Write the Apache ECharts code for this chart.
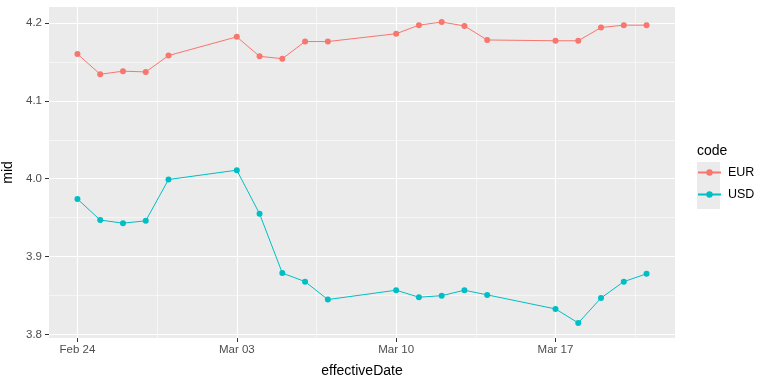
<!DOCTYPE html>
<html>
<head>
<meta charset="utf-8">
<script src="https://cdn.jsdelivr.net/npm/echarts@6/dist/echarts.min.js"></script>
<style>html,body{margin:0;padding:0;background:#fff}#c{width:768px;height:384px}</style>
</head>
<body>
<div id="c"></div>
<script>
const dates = ["2025-02-24","2025-02-25","2025-02-26","2025-02-27","2025-02-28",
  "2025-03-03","2025-03-04","2025-03-05","2025-03-06","2025-03-07",
  "2025-03-10","2025-03-11","2025-03-12","2025-03-13","2025-03-14",
  "2025-03-17","2025-03-18","2025-03-19","2025-03-20","2025-03-21"];
const eur = [4.160,4.134,4.138,4.137,4.158,4.182,4.157,4.154,4.176,4.176,
  4.186,4.197,4.201,4.196,4.178,4.177,4.177,4.194,4.197,4.197];
const usd = [3.974,3.947,3.943,3.946,3.999,4.011,3.955,3.879,3.868,3.845,
  3.857,3.848,3.850,3.857,3.851,3.833,3.815,3.847,3.868,3.878];
const xTickDates = ["2025-02-24","2025-03-03","2025-03-10","2025-03-17"];
const xTickLabels = ["Feb 24","Mar 03","Mar 10","Mar 17"];
const xMinorDates = ["2025-02-27T12:00","2025-03-06T12:00","2025-03-13T12:00","2025-03-20T12:00"];
const yTicks = [3.8,3.9,4.0,4.1,4.2];
const yTickLabels = ["3.8","3.9","4.0","4.1","4.2"];
const yMinor = [3.85,3.95,4.05,4.15];

const ts = s => { const [d,t] = s.split("T"); const [Y,M,D] = d.split("-").map(Number);
  let h = 0; if (t) h = Number(t.split(":")[0]); return Date.UTC(Y, M-1, D, h); };
const xs = dates.map(ts);
const xMin = xs[0] - 0.05*(xs[xs.length-1]-xs[0]);
const xMax = xs[xs.length-1] + 0.05*(xs[xs.length-1]-xs[0]);
const allY = eur.concat(usd);
const yLo = Math.min(...allY), yHi = Math.max(...allY);
const yMin = yLo - 0.05*(yHi-yLo), yMax = yHi + 0.05*(yHi-yLo);
const xTickVals = xTickDates.map(ts);
const xMinorVals = xMinorDates.map(ts);

const gridLines = [];
xTickVals.forEach(v => gridLines.push({xAxis: v, lineStyle: {width: 1.1}}));
xMinorVals.forEach(v => gridLines.push({xAxis: v, lineStyle: {width: 0.55}}));
yTicks.forEach(v => gridLines.push({yAxis: v, lineStyle: {width: 1.1}}));
yMinor.forEach(v => gridLines.push({yAxis: v, lineStyle: {width: 0.55}}));

const font = '"Liberation Sans", Arial, sans-serif';
const chart = echarts.init(document.getElementById('c'));
chart.setOption({
  animation: false,
  textStyle: {fontFamily: font},
  grid: {left: 49, right: 93, top: 7, bottom: 46, show: true, backgroundColor: '#EBEBEB', borderWidth: 0,
    containLabel: false, outerBoundsMode: 'none'},
  xAxis: {
    type: 'value', min: xMin, max: xMax,
    name: 'effectiveDate', nameLocation: 'middle', nameGap: 26,
    nameTextStyle: {color: '#000', fontSize: 14, fontFamily: font},
    axisLine: {show: false},
    axisTick: {show: true, length: 4, lineStyle: {color: '#333'}, customValues: xTickVals},
    axisLabel: {color: '#4D4D4D', fontSize: 11.5, margin: 6, customValues: xTickVals,
      formatter: v => { const i = xTickVals.indexOf(v); return i >= 0 ? xTickLabels[i] : ''; }},
    splitLine: {show: false}
  },
  yAxis: {
    type: 'value', min: yMin, max: yMax,
    name: 'mid', nameLocation: 'middle', nameGap: 31, nameRotate: 90,
    nameTextStyle: {color: '#000', fontSize: 14, fontFamily: font},
    axisLine: {show: false},
    axisTick: {show: true, length: 4, lineStyle: {color: '#333'}, customValues: yTicks},
    axisLabel: {color: '#4D4D4D', fontSize: 11.5, margin: 7, customValues: yTicks,
      formatter: v => { const i = yTicks.findIndex(t => Math.abs(t - v) < 1e-9); return i >= 0 ? yTickLabels[i] : ''; }},
    splitLine: {show: false}
  },
  legend: {
    orient: 'vertical', left: 697, top: 166, padding: 0, itemWidth: 23, itemHeight: 8, itemGap: 9,
    textStyle: {color: '#000', fontSize: 12.5, fontFamily: font, padding: [0,0,0,2]},
    data: ['EUR','USD']
  },
  graphic: [
    {type: 'rect', left: 697, top: 162, shape: {width: 23, height: 47}, style: {fill: '#EBEBEB'}, z: -1},
    {type: 'text', left: 697, top: 144, style: {text: 'code', fill: '#000', fontSize: 14, fontFamily: font}}
  ],
  series: [
    {type: 'line', name: '_grid', data: [], silent: true, z: 0,
      markLine: {silent: true, z: 0, symbol: 'none', label: {show: false}, animation: false,
        lineStyle: {color: '#FFFFFF', type: 'solid'}, emphasis: {disabled: true}, data: gridLines}},
    {type: 'line', name: 'EUR', data: xs.map((x,i) => [x, eur[i]]), z: 3,
      symbol: 'circle', symbolSize: 6, color: '#F8766D',
      lineStyle: {width: 1, color: '#F8766D'}, itemStyle: {color: '#F8766D', borderWidth: 0}},
    {type: 'line', name: 'USD', data: xs.map((x,i) => [x, usd[i]]), z: 3,
      symbol: 'circle', symbolSize: 6, color: '#00BFC4',
      lineStyle: {width: 1, color: '#00BFC4'}, itemStyle: {color: '#00BFC4', borderWidth: 0}}
  ]
});
</script>
</body>
</html>
